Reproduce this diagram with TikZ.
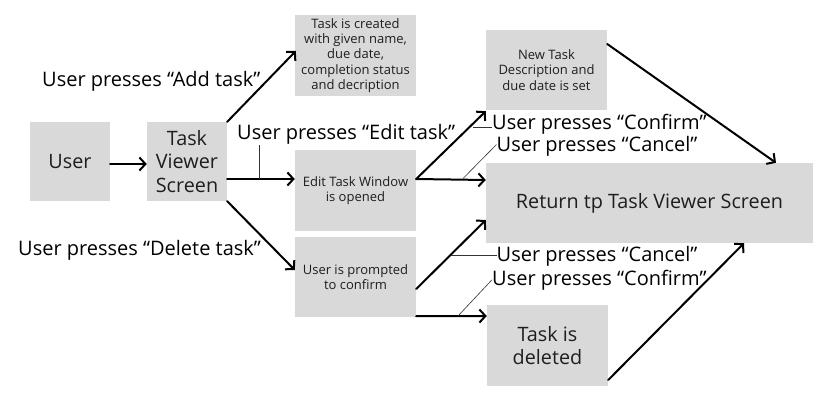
\documentclass[tikz,border=0pt]{standalone}
\usepackage{fontspec}
\setmainfont{Open Sans}
\usetikzlibrary{arrows.meta,calc}
\definecolor{boxfill}{HTML}{D9D9D9}
\definecolor{boxtext}{HTML}{1E1E1E}
\tikzset{
  box/.style={fill=boxfill, text=boxtext, align=center, inner sep=0pt},
  smalltxt/.style={font=\fontsize{13}{15.3}\selectfont},
  bigtxt/.style={font=\fontsize{19.8}{23.5}\selectfont},
  lbl/.style={anchor=base west, inner sep=0pt, font=\fontsize{20}{22}\selectfont, text=black},
  flow/.style={line width=2pt, -{Straight Barb[length=6pt,width=13pt,line width=2pt]}, line cap=round},
  leader/.style={line width=0.6pt, draw=black!80},
}
\begin{document}
\begin{tikzpicture}[x=1pt,y=-1pt]
\useasboundingbox (0,0) rectangle (831,407);
% boxes
\node[box,bigtxt,minimum width=80pt,minimum height=79pt] (user) at (70,161.5) {User};
\node[box,bigtxt,minimum width=80pt,minimum height=79pt] (tvs) at (187,161.5) {Task\\Viewer\\Screen};
\node[box,smalltxt,minimum width=121pt,minimum height=81pt] (created) at (355.5,55.5) {Task is created\\with given name,\\due date,\\completion status\\and decription};
\node[box,smalltxt,minimum width=121pt,minimum height=81pt] (edit) at (355.5,190.5) {Edit Task Window\\is opened};
\node[box,smalltxt,minimum width=121pt,minimum height=80pt] (prompt) at (355.5,277) {User is prompted\\to confirm};
\node[box,smalltxt,minimum width=121pt,minimum height=80pt] (newdesc) at (546.5,70) {New Task\\Description and\\due date is set};
\node[box,bigtxt,minimum width=327pt,minimum height=80pt] (ret) at (649.5,203) {Return tp Task Viewer Screen};
\node[box,bigtxt,minimum width=121pt,minimum height=81pt] (deleted) at (547.5,345.5) {Task is\\deleted};
% labels
\node[lbl] (addlbl) at (42,86) {User presses “Add task”};
\node[lbl] (editlbl) at (237,139.5) {User presses “Edit task”};
\node[lbl] (dellbl) at (18,255) {User presses “Delete task”};
\node[lbl] (conf1) at (492,129.3) {User presses “Confirm”};
\node[lbl] (canc1) at (496.5,151.7) {User presses “Cancel”};
\node[lbl] (canc2) at (496.5,261.7) {User presses “Cancel”};
\node[lbl] (conf2) at (492,285) {User presses “Confirm”};
% connectors
\draw[flow] ($(user.east)+(0,2.5)$) -- ($(tvs.west)+(0,2.5)$);
\draw[flow] (tvs.north east) -- ($(created.west)+(1,-4.5)$);
\draw[flow] ($(tvs.east)+(0,17.5)$) -- ($(edit.west)+(0,-11.5)$);
\draw[flow] (tvs.south east) -- ($(prompt.west)+(0,-7)$);
\draw[flow] ($(edit.east)+(0,-11.5)$) -- ($(newdesc.south west)+(0,1)$);
\draw[flow] ($(edit.east)+(0,-11.5)$) -- ($(ret.west)+(0,-23)$);
\draw[flow] ($(newdesc.east)+(0,-26)$) -- ($(ret.north)+(126.5,0)$);
\draw[flow] ($(prompt.east)+(0,12)$) -- ($(ret.west)+(0,17)$);
\draw[flow] ($(prompt.south east)+(0,-1)$) -- ($(deleted.west)+(0,-29.5)$);
\draw[flow] ($(deleted.east)+(0,34.5)$) -- ($(ret.south)+(94.5,0)$);
% leaders
\coordinate (e1) at (259,178.5);
\coordinate (c1) at (473,127);
\coordinate (k1) at (463,178.5);
\coordinate (k2) at (451,255);
\coordinate (c2) at (458,316);
\draw[leader] (e1) -- (259,145);
\draw[leader] (c1) -- (conf1.west |- c1);
\draw[leader] (k1) -- ($(canc1.west)+(0,-2)$);
\draw[leader] (k2) -- (canc2.west |- k2);
\draw[leader] (c2) -- (conf2.west);
\end{tikzpicture}
\end{document}
